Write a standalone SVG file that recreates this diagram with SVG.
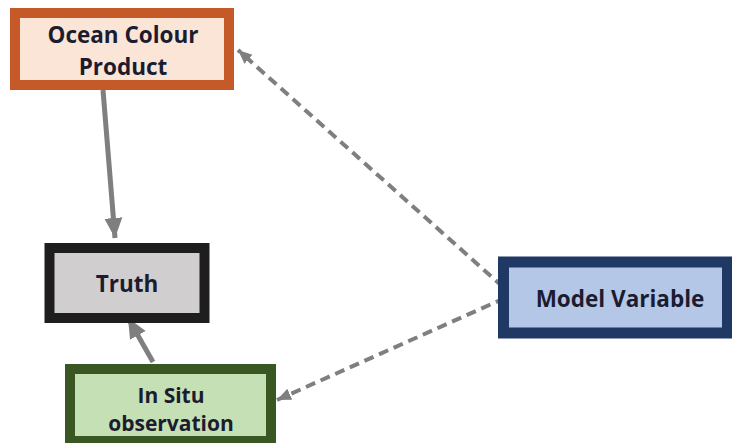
<svg xmlns="http://www.w3.org/2000/svg" width="732" height="443" viewBox="0 0 732 443">
<style>
.lbl{font-family:"Open Sans",Lato,"Liberation Sans",sans-serif;font-weight:bold;font-size:22.5px;fill:#1c1c30;text-anchor:middle}
.sm{font-size:21px}
.solid{stroke:#7f7f7f;stroke-width:5;fill:none}
.dash{stroke:#7f7f7f;stroke-width:4;fill:none;stroke-dasharray:10 6}
</style>
<defs>
<marker id="big" markerUnits="userSpaceOnUse" markerWidth="20" markerHeight="20" refX="20" refY="10" orient="auto">
<path d="M0,1 L20,10 L0,19 Z" fill="#7f7f7f"/>
</marker>
<marker id="small" markerUnits="userSpaceOnUse" markerWidth="14" markerHeight="14" refX="14" refY="7" orient="auto">
<path d="M0,1 L14,7 L0,13 Z" fill="#7f7f7f"/>
</marker>
</defs>
<rect width="732" height="443" fill="#ffffff"/>
<g id="connectors">
<line class="solid" x1="103" y1="90" x2="115" y2="238" marker-end="url(#big)"/>
<line class="solid" x1="153" y1="362" x2="128" y2="318" marker-end="url(#big)"/>
<line class="dash" x1="503" y1="287" x2="238" y2="50" marker-end="url(#small)"/>
<line class="dash" x1="505" y1="298" x2="277" y2="400" marker-end="url(#small)"/>
</g>
<g id="ocean">
<rect x="15" y="13" width="214" height="72" fill="#fbe5d6" stroke="#c55a28" stroke-width="10"/>
<text class="lbl" x="123" y="43">Ocean Colour</text>
<text class="lbl" x="123" y="75">Product</text>
</g>
<g id="truth">
<rect x="49.5" y="248" width="155" height="70" fill="#d0cece" stroke="#1e1e1e" stroke-width="10"/>
<text class="lbl" x="127" y="292">Truth</text>
</g>
<g id="insitu">
<rect x="70" y="369" width="201" height="72" fill="#c5e0b4" stroke="#385723" stroke-width="10"/>
<text class="lbl sm" x="171" y="403">In Situ</text>
<text class="lbl sm" x="171" y="431">observation</text>
</g>
<g id="model">
<rect x="503.5" y="262" width="224" height="71" fill="#b4c7e7" stroke="#1f3864" stroke-width="11"/>
<text class="lbl" x="620" y="307">Model Variable</text>
</g>
</svg>
